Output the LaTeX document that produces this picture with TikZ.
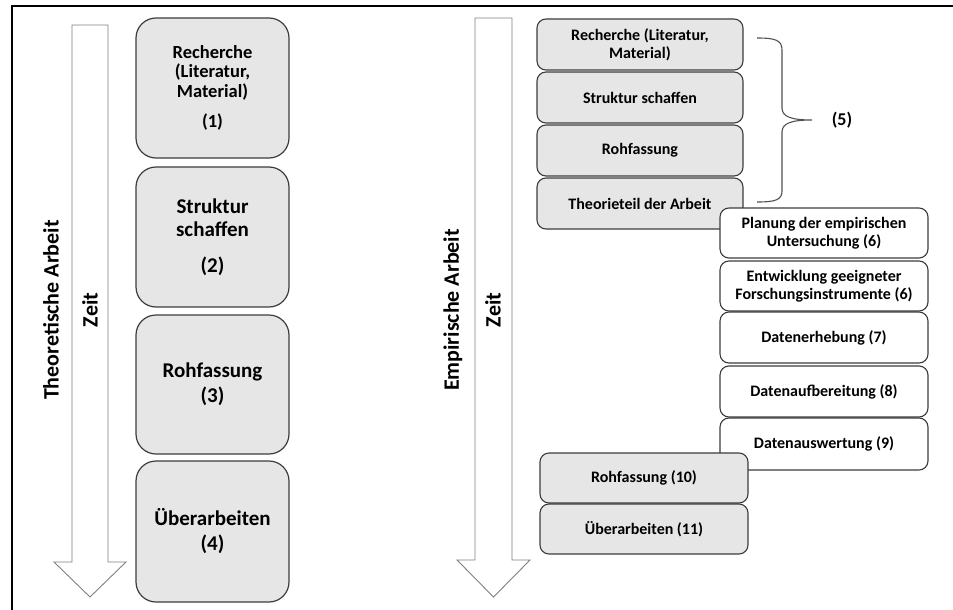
\documentclass[tikz,border=0pt]{standalone}
\usepackage{fontspec}
\setmainfont{Carlito}
\definecolor{boxfill}{HTML}{E6E6E6}
\definecolor{boxline}{HTML}{3C3C3C}
\definecolor{arrowline}{HTML}{808080}
\definecolor{braceline}{HTML}{505050}
\begin{document}
\begin{tikzpicture}[x=1pt,y=-1pt,
  frame/.style={line width=2pt,black},
  timearrow/.style={draw=arrowline,fill=white,line width=0.9pt,line join=miter},
  bigbox/.style={draw=boxline,fill=boxfill,line width=1.2pt,rounded corners=20pt,
    minimum width=153pt,align=center,inner sep=0pt,
    font=\fontsize{21}{23}\selectfont\bfseries},
  smallbox/.style={draw=boxline,fill=boxfill,line width=1.1pt,rounded corners=9pt,
    minimum height=50pt,align=center,inner sep=0pt,
    font=\fontsize{16}{18}\selectfont\bfseries},
  whitebox/.style={smallbox,fill=white},
  sidelabel/.style={rotate=90,inner sep=0pt,font=\fontsize{22}{24}\selectfont\bfseries},
  brace/.style={draw=braceline,line width=1.1pt}]
\useasboundingbox (0,0) rectangle (953,610);

% outer frame (top and left edge)
\draw[frame] (12,610) -- (12,6) -- (953,6);

% time arrows
\draw[timearrow] (72,25) -- (108,25) -- (108,562) -- (126,562) -- (90,597)
  -- (54,562) -- (72,562) -- cycle;
\draw[timearrow] (475,18) -- (512,18) -- (512,560) -- (530,560) -- (493.5,597)
  -- (457,560) -- (475,560) -- cycle;

% side labels
\node[sidelabel] (theo)  at (51,310) {Theoretische Arbeit};
\node[sidelabel] (zeitL) at (90,310) {Zeit};
\node[sidelabel] (emp)   at (453,310) {Empirische Arbeit};
\node[sidelabel] (zeitR) at (493,310) {Zeit};

% theoretical work: four phases
\node[bigbox,minimum height=140pt,font=\fontsize{18.5}{19.5}\selectfont\bfseries]
  (t1) at (212.5,88) {Recherche\\(Literatur,\\Material)\\[11pt](1)};
\node[bigbox,minimum height=140pt] (t2) at (212.5,237) {Struktur\\schaffen\\[13pt](2)};
\node[bigbox,minimum height=139pt] (t3) at (212.5,384.5) {Rohfassung\\[2pt](3)};
\node[bigbox,minimum height=141pt] (t4) at (212.5,531.5) {Überarbeiten\\[2pt](4)};

% empirical work: theory part
\node[smallbox,minimum width=206pt,minimum height=51pt] (e1) at (640,44.5)
  {Recherche (Literatur,\\Material)};
\node[smallbox,minimum width=206pt,minimum height=51pt] (e2) at (640,97.5) {Struktur schaffen};
\node[smallbox,minimum width=206pt,minimum height=51pt] (e3) at (640,150.5) {Rohfassung};
\node[smallbox,minimum width=206pt,minimum height=51pt] (e4) at (640,203.5) {Theorieteil der Arbeit};

% brace grouping the theory part
\draw[brace] (757,38) .. controls (775,38) and (782,40) .. (782,50) -- (782,108)
  .. controls (782,117) and (792,120) .. (812,120)
  .. controls (792,120) and (782,123) .. (782,132) -- (782,191)
  .. controls (782,200) and (775,202) .. (757,202);
\node[font=\fontsize{18}{20}\selectfont\bfseries] (five) at (842,120) {(5)};

% empirical work: study phases
\node[whitebox,minimum width=208pt] (w1) at (824,233) {Planung der empirischen\\Untersuchung (6)};
\node[whitebox,minimum width=208pt] (w2) at (824,286) {Entwicklung geeigneter\\Forschungsinstrumente (6)};
\node[whitebox,minimum width=208pt,minimum height=51pt] (w3) at (824,337.5) {Datenerhebung (7)};
\node[whitebox,minimum width=208pt,minimum height=51pt] (w4) at (824,391.5) {Datenaufbereitung (8)};
\node[whitebox,minimum width=208pt,minimum height=52pt] (w5) at (824,444) {Datenauswertung (9)};

% empirical work: writing
\node[smallbox,minimum width=208pt] (g1) at (644,478) {Rohfassung (10)};
\node[smallbox,minimum width=208pt] (g2) at (644,529) {Überarbeiten (11)};
\end{tikzpicture}
\end{document}
